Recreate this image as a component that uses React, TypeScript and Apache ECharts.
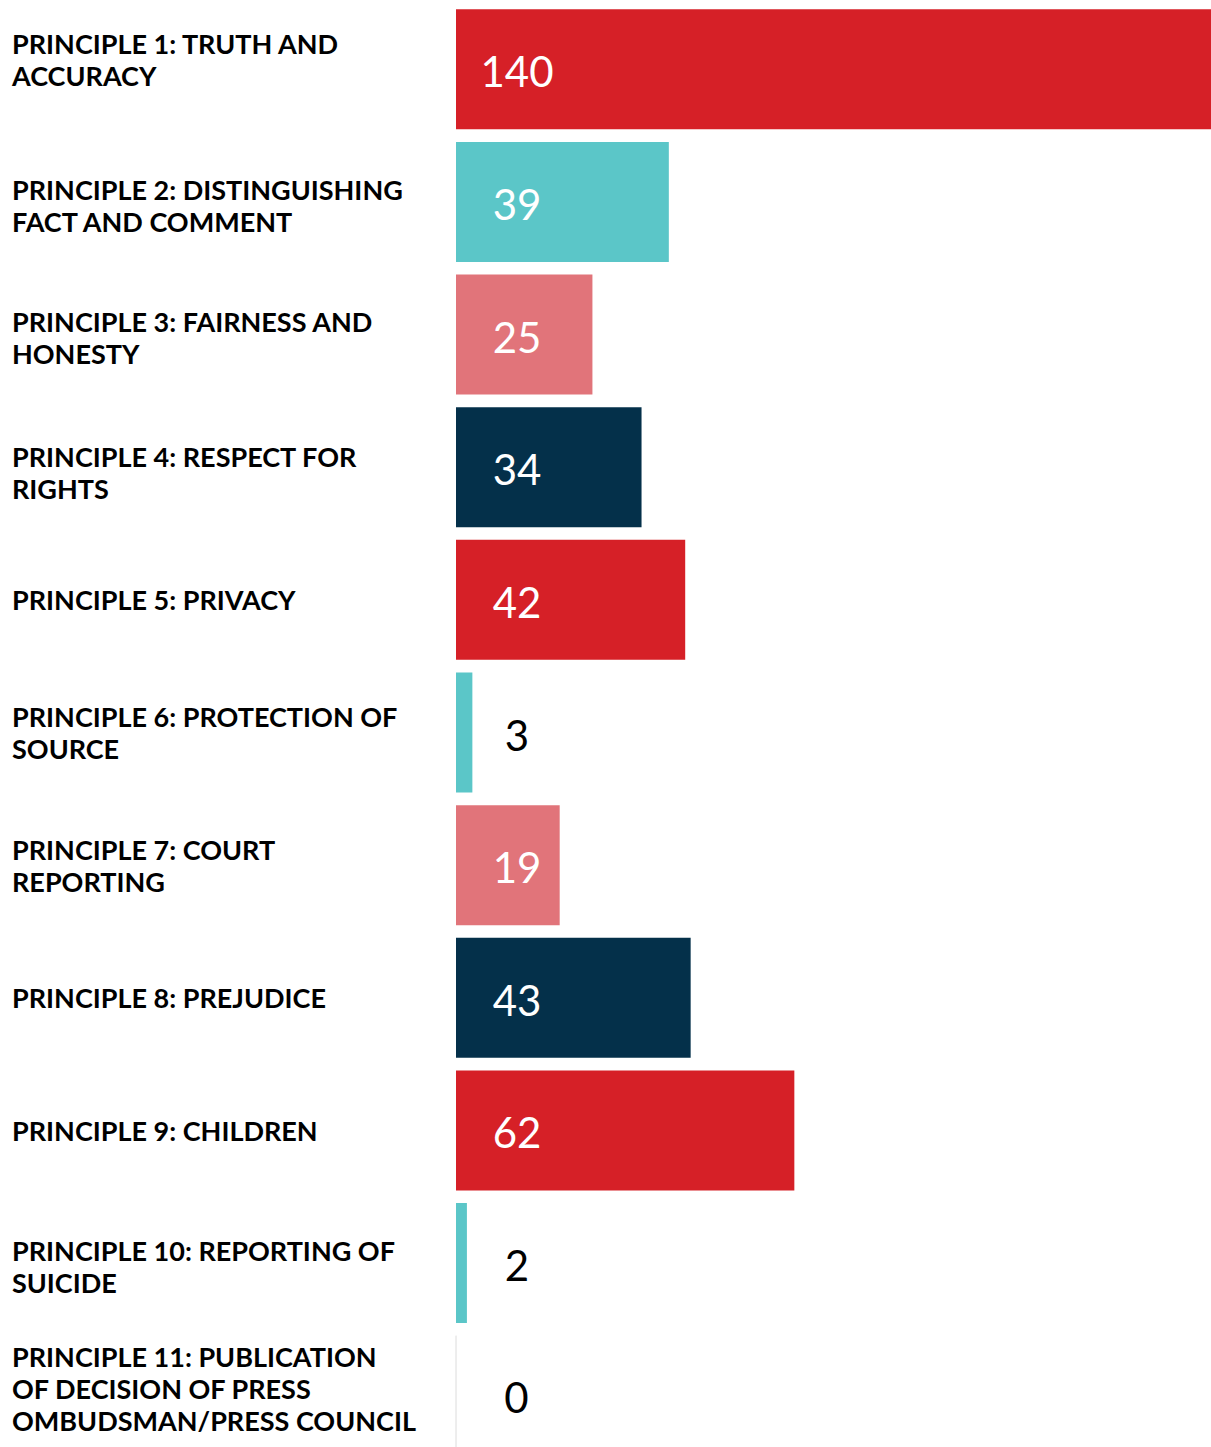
import React, { useEffect, useRef } from "react";
import * as echarts from "echarts";

const categories = [
  "PRINCIPLE 1: TRUTH AND\nACCURACY",
  "PRINCIPLE 2: DISTINGUISHING\nFACT AND COMMENT",
  "PRINCIPLE 3: FAIRNESS AND\nHONESTY",
  "PRINCIPLE 4: RESPECT FOR\nRIGHTS",
  "PRINCIPLE 5: PRIVACY",
  "PRINCIPLE 6: PROTECTION OF\nSOURCE",
  "PRINCIPLE 7: COURT\nREPORTING",
  "PRINCIPLE 8: PREJUDICE",
  "PRINCIPLE 9: CHILDREN",
  "PRINCIPLE 10: REPORTING OF\nSUICIDE",
  "PRINCIPLE 11: PUBLICATION\nOF DECISION OF PRESS\nOMBUDSMAN/PRESS COUNCIL",
];

const values = [140, 39, 25, 34, 42, 3, 19, 43, 62, 2, 0];

const barColors = [
  "#D62027",
  "#5BC6C8",
  "#E1747A",
  "#04304A",
  "#D62027",
  "#5BC6C8",
  "#E1747A",
  "#04304A",
  "#D62027",
  "#5BC6C8",
  "#E8E8E8",
];

const labelColors = [
  "#ffffff",
  "#ffffff",
  "#ffffff",
  "#ffffff",
  "#ffffff",
  "#000000",
  "#ffffff",
  "#ffffff",
  "#ffffff",
  "#000000",
  "#000000",
];

// vertical nudge of each category label (positive = up), px
const labelShift = [10, -4, -3, -5, 0, 0, 0, 0, 0, -3, 7];

export default function App() {
  const ref = useRef<HTMLDivElement>(null);

  useEffect(() => {
    if (!ref.current) return;
    const chart = echarts.init(ref.current, undefined, { renderer: "svg" });
    const rich: Record<string, any> = {};
    labelShift.forEach((s) => {
      if (s !== 0) {
        rich["sp" + Math.abs(s)] = { fontSize: 1, lineHeight: Math.abs(s) * 2 };
      }
    });
    chart.setOption({
      animation: false,
      backgroundColor: "#ffffff",
      grid: {
        left: 456,
        top: 3,
        width: 764,
        height: 1459,
        containLabel: false,
        outerBoundsMode: "none",
      },
      xAxis: {
        type: "value",
        min: 0,
        max: 140,
        show: false,
      },
      yAxis: {
        type: "category",
        data: categories,
        inverse: true,
        axisLine: { show: false },
        axisTick: { show: false },
        splitLine: { show: false },
        axisLabel: {
          align: "left",
          margin: 444,
          color: "#000000",
          fontFamily: "Lato",
          fontWeight: "bold",
          fontSize: 27,
          lineHeight: 32,
          rich,
          formatter: (v: string, i: number) => {
            const s = labelShift[i];
            if (s > 0) return v + "\n{sp" + s + "|\u00a0}";
            if (s < 0) return "{sp" + -s + "|\u00a0}\n" + v;
            return v;
          },
        },
      },
      series: [
        {
          type: "bar",
          barWidth: 120,
          data: values.map((v, i) => ({
            value: v,
            itemStyle:
              v === 0
                ? { color: barColors[i], borderColor: "#E8E8E8", borderWidth: 1 }
                : { color: barColors[i] },
            label: {
              show: true,
              position: [61, 62],
              align: "center",
              verticalAlign: "middle",
              color: labelColors[i],
              fontFamily: "Lato",
              fontSize: 42,
              fontWeight: "normal",
            },
          })),
        },
      ],
    });
    return () => chart.dispose();
  }, []);

  return (
    <div
      style={{
        position: "absolute",
        left: 0,
        top: 0,
        width: 1211,
        height: 1447,
        overflow: "hidden",
      }}
    >
      <div ref={ref} style={{ width: 1240, height: 1470 }} />
    </div>
  );
}
